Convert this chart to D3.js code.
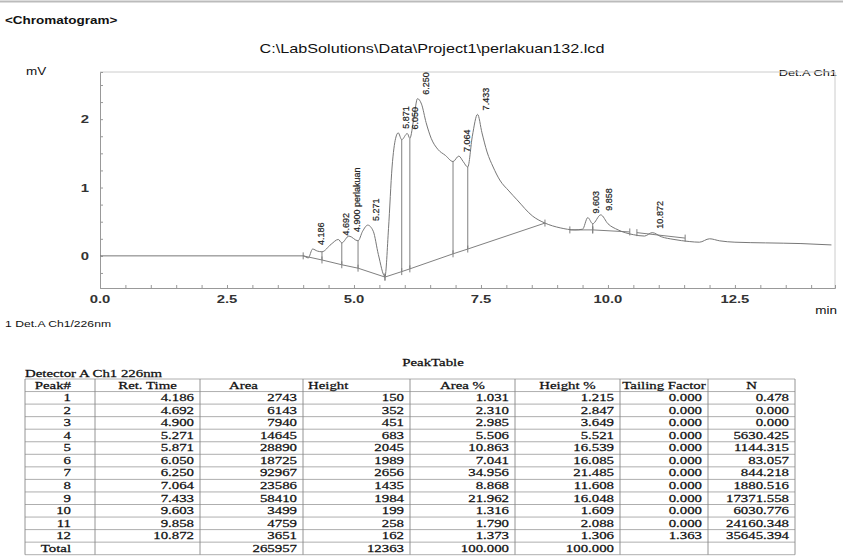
<!DOCTYPE html>
<html>
<head>
<meta charset="utf-8">
<script src="https://cdn.jsdelivr.net/npm/d3@7"></script>
<style>
  body { margin: 0; background: #fff; }
  svg { display: block; }
</style>
</head>
<body>
<svg id="chart" width="843" height="557"></svg>
<script>
// chromatogram trace (min, mV)
var traceTime = [0, 4.00, 4.10, 4.186, 4.28, 4.37, 4.55, 4.692, 4.76, 4.90, 5.08, 5.17, 5.271, 5.38, 5.48, 5.61,
  5.68, 5.75, 5.82, 5.871, 5.94, 6.05, 6.10, 6.18, 6.25, 6.33, 6.42, 6.52, 6.65, 6.80, 6.95, 7.064, 7.15, 7.24,
  7.33, 7.433, 7.52, 7.62, 7.74, 7.87, 8.05, 8.21, 8.52, 8.76, 9.06, 9.35, 9.50, 9.603, 9.70, 9.858, 10.00,
  10.20, 10.50, 10.72, 10.872, 11.05, 11.30, 11.60, 11.80, 12.00, 12.20, 12.50, 13.10, 13.80, 14.40];
var traceMv = [0, 0, -0.03, 0.10, 0.07, 0.06, 0.17, 0.24, 0.19, 0.29, 0.22, 0.36, 0.45, 0.36, 0.02, -0.30,
  0.40, 1.30, 1.72, 1.80, 1.70, 1.79, 1.72, 2.02, 2.30, 2.22, 1.95, 1.72, 1.56, 1.47, 1.38, 1.46, 1.38, 1.30,
  1.75, 2.07, 1.80, 1.52, 1.30, 1.11, 0.95, 0.82, 0.58, 0.48, 0.41, 0.38, 0.39, 0.56, 0.47, 0.60, 0.47,
  0.38, 0.31, 0.29, 0.34, 0.28, 0.24, 0.21, 0.20, 0.25, 0.22, 0.20, 0.19, 0.18, 0.16];

// integration baselines (each segment: times, mV) and drop lines
var baseTime = [[4.00, 4.37, 4.76, 5.08, 5.61], [5.61, 5.94, 6.10, 6.95, 7.24, 8.76], [9.25, 9.70], [9.70, 10.43], [10.57, 11.52]];
var baseMv = [[0, -0.06, -0.13, -0.18, -0.31], [-0.31, -0.23, -0.19, 0.03, 0.10, 0.48], [0.38, 0.38], [0.38, 0.35], [0.34, 0.26]];
var dropTime = [4.37, 4.76, 5.08, 5.94, 6.10, 6.95, 7.24, 9.70];

// peak table
var peakNo = [1, 2, 3, 4, 5, 6, 7, 8, 9, 10, 11, 12];
var retTime = [4.186, 4.692, 4.900, 5.271, 5.871, 6.050, 6.250, 7.064, 7.433, 9.603, 9.858, 10.872];
var peakName = ["", "", "perlakuan", "", "", "", "", "", "", "", "", ""];
var area = [2743, 6143, 7940, 14645, 28890, 18725, 92967, 23586, 58410, 3499, 4759, 3651];
var height = [150, 352, 451, 683, 2045, 1989, 2656, 1435, 1984, 199, 258, 162];
var areaPct = [1.031, 2.310, 2.985, 5.506, 10.863, 7.041, 34.956, 8.868, 21.962, 1.316, 1.790, 1.373];
var heightPct = [1.215, 2.847, 3.649, 5.521, 16.539, 16.085, 21.485, 11.608, 16.048, 1.609, 2.088, 1.306];
var tailing = [0, 0, 0, 0, 0, 0, 0, 0, 0, 0, 0, 1.363];
var plates = [0.478, 0.000, 0.000, 5630.425, 1144.315, 83.057, 844.218, 1880.516, 17371.558, 6030.776, 24160.348, 35645.394];
var totalArea = 265957, totalHeight = 12363, totalPct = 100;

var xTicks = [0, 2.5, 5, 7.5, 10, 12.5];
var yTicks = [0, 1, 2];
var headers = ["Peak#", "Ret. Time", "Area", "Height", "Area %", "Height %", "Tailing Factor", "N"];

var SANS = "'Liberation Sans', Arial, sans-serif";
var SERIF = "'Liberation Serif', 'Times New Roman', serif";
var STRETCH = 1.35; // the scan is wider than tall

var svg = d3.select("#chart");

var x = d3.scaleLinear().domain([0, 14.47]).range([100, 835]);
var y = d3.scaleLinear().domain([-0.47, 2.69]).range([288, 72]);

function text(g, px, py, str, size, opt) {
    opt = opt || {};
    var t = g.append("text")
        .attr("transform", "translate(" + px + "," + py + ") scale(" + STRETCH + ",1)")
        .attr("text-anchor", opt.anchor || "start")
        .attr("font-family", opt.family || SANS)
        .attr("font-size", size)
        .attr("font-weight", opt.weight || "normal")
        .attr("fill", opt.fill || "#111")
        .text(str);
    if (opt.heavy) t.attr("stroke", opt.fill || "#111").attr("stroke-width", 0.25);
    return t;
}

function interp(ts, vs, t) {
    for (var i = 0; i < ts.length - 1; i++) {
        if (t >= ts[i] && t <= ts[i + 1]) {
            var k = (t - ts[i]) / (ts[i + 1] - ts[i]);
            return vs[i] + k * (vs[i + 1] - vs[i]);
        }
    }
    return null;
}
function baseAt(t) {
    for (var s = 0; s < baseTime.length; s++) {
        var v = interp(baseTime[s], baseMv[s], t);
        if (v !== null) return v;
    }
    return 0;
}

// page rule at the very top
svg.append("line").attr("x1", 0).attr("x2", 843).attr("y1", 1.5).attr("y2", 1.5)
    .attr("stroke", "#bbb").attr("stroke-width", 2);

text(svg, 5, 24, "<Chromatogram>", 10, { weight: "bold" });
text(svg, 432, 53, "C:\\LabSolutions\\Data\\Project1\\perlakuan132.lcd", 12, { anchor: "middle" });
text(svg, 26, 75, "mV", 10);
text(svg, 837, 76, "Det.A Ch1", 9.5, { anchor: "end" });
text(svg, 837, 314, "min", 10, { anchor: "end" });
text(svg, 5, 327, "1  Det.A Ch1/226nm", 9);

// frame
var frame = svg.append("g").attr("stroke", "#ccc").attr("fill", "none");
frame.append("line").attr("x1", x.range()[0]).attr("x2", x.range()[1]).attr("y1", 72).attr("y2", 72);
frame.append("line").attr("x1", x.range()[1]).attr("x2", x.range()[1]).attr("y1", 72).attr("y2", 288);

// axes
var xAxis = svg.append("g").attr("transform", "translate(0,288)")
    .call(d3.axisBottom(x).tickValues(d3.range(0, 14.5, 0.5)).tickSize(-3).tickFormat(""));
var yAxis = svg.append("g").attr("transform", "translate(100,0)")
    .call(d3.axisLeft(y).tickValues(d3.range(-0.25, 2.7, 0.25)).tickSize(-3).tickFormat(""));
[xAxis, yAxis].forEach(function (a) {
    a.select(".domain").attr("stroke", "#999");
    a.selectAll(".tick line").attr("stroke", "#999");
});
xTicks.forEach(function (t) {
    text(svg, x(t), 303, d3.format(".1f")(t), 11, { anchor: "middle", weight: "bold", fill: "#333" });
});
yTicks.forEach(function (v) {
    text(svg, 89, y(v) + 4, v, 11, { anchor: "end", weight: "bold", fill: "#333" });
});

// integration baselines with start/end ticks
var bl = svg.append("g").attr("stroke", "#808080").attr("stroke-width", 1).attr("fill", "none");
baseTime.forEach(function (ts, s) {
    var pts = ts.map(function (t, i) { return [t, baseMv[s][i]]; });
    bl.append("path").attr("d", d3.line().x(function (d) { return x(d[0]); }).y(function (d) { return y(d[1]); })(pts));
    pts.forEach(function (d) {
        bl.append("line").attr("x1", x(d[0])).attr("x2", x(d[0]))
            .attr("y1", y(d[1]) - 3.5).attr("y2", y(d[1]) + 3.5);
    });
});
dropTime.forEach(function (t) {
    bl.append("line").attr("x1", x(t)).attr("x2", x(t))
        .attr("y1", y(interp(traceTime, traceMv, t))).attr("y2", y(baseAt(t)));
});

// trace
var trace = traceTime.map(function (t, i) { return [t, traceMv[i]]; });
svg.append("path")
    .attr("d", d3.line().curve(d3.curveMonotoneX)
        .x(function (d) { return x(d[0]); }).y(function (d) { return y(d[1]); })(trace))
    .attr("fill", "none").attr("stroke", "#777").attr("stroke-width", 1);

// peak labels, vertical, right of the apex
retTime.forEach(function (rt, i) {
    var px = x(rt) + 8, py = y(interp(traceTime, traceMv, rt)) - 4;
    var s = d3.format(".3f")(rt) + (peakName[i] ? "  " + peakName[i] : "");
    svg.append("text")
        .attr("transform", "translate(" + px + "," + py + ") rotate(-90)")
        .attr("dy", "0.35em")
        .attr("font-family", SANS).attr("font-size", 9).attr("fill", "#222")
        .attr("stroke", "#222").attr("stroke-width", 0.2)
        .text(s);
});

// peak table
text(svg, 433, 366, "PeakTable", 11, { anchor: "middle", family: SERIF, heavy: true });
text(svg, 25, 377, "Detector A Ch1 226nm", 11, { family: SERIF, heavy: true });

var colX = [25, 95, 200, 303, 410, 515, 620, 708, 795];
var rowTop = 379, rowH = 12.55;
var nRows = peakNo.length + 2;
var tbl = svg.append("g");
d3.range(nRows + 1).forEach(function (r) {
    tbl.append("line").attr("x1", colX[0]).attr("x2", colX[colX.length - 1])
        .attr("y1", rowTop + r * rowH).attr("y2", rowTop + r * rowH)
        .attr("stroke", "#999").attr("stroke-width", 0.8);
});
colX.forEach(function (cx) {
    tbl.append("line").attr("x1", cx).attr("x2", cx)
        .attr("y1", rowTop).attr("y2", rowTop + nRows * rowH)
        .attr("stroke", "#888").attr("stroke-width", 0.9);
});

var headAnchor = ["end", "middle", "middle", "start", "middle", "middle", "middle", "middle"];
headers.forEach(function (h, c) {
    var hx = headAnchor[c] === "end" ? 71 : headAnchor[c] === "start" ? colX[c] + 5 : (colX[c] + colX[c + 1]) / 2 - (c === 2 ? 8 : 0);
    text(tbl, hx, rowTop + rowH - 3, h, 11, { anchor: headAnchor[c], family: SERIF, heavy: true });
});

var f3 = d3.format(".3f");
peakNo.forEach(function (p, i) {
    var cy = rowTop + (i + 2) * rowH - 3;
    var cells = [p, f3(retTime[i]), area[i], height[i], f3(areaPct[i]), f3(heightPct[i]), f3(tailing[i]), f3(plates[i])];
    cells.forEach(function (v, c) {
        var cxp = c === 0 ? 71 : colX[c + 1] - 6;
        text(tbl, cxp, cy, v, 11, { anchor: "end", family: SERIF, heavy: true });
    });
});
var ty = rowTop + nRows * rowH - 3;
text(tbl, 71, ty, "Total", 11, { anchor: "end", family: SERIF, heavy: true });
text(tbl, colX[3] - 6, ty, totalArea, 11, { anchor: "end", family: SERIF, heavy: true });
text(tbl, colX[4] - 6, ty, totalHeight, 11, { anchor: "end", family: SERIF, heavy: true });
text(tbl, colX[5] - 6, ty, f3(totalPct), 11, { anchor: "end", family: SERIF, heavy: true });
text(tbl, colX[6] - 6, ty, f3(totalPct), 11, { anchor: "end", family: SERIF, heavy: true });
</script>
</body>
</html>
